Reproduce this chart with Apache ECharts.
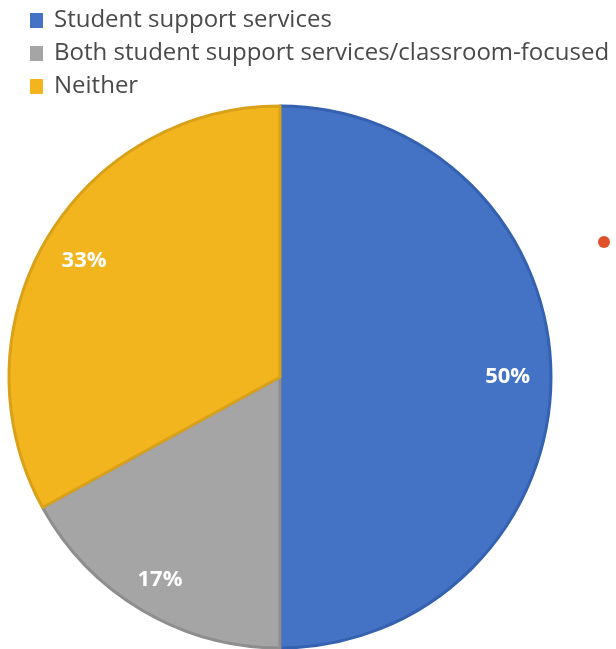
<!DOCTYPE html>
<html>
<head>
<meta charset="utf-8">
<script src="https://cdn.jsdelivr.net/npm/echarts@6/dist/echarts.min.js"></script>
<style>
  html, body { margin: 0; padding: 0; background: #fff; }
  #chart { width: 616px; height: 649px; }
</style>
</head>
<body>
<div id="chart"></div>
<script>
// Categories and shares (percent)
const categories = [
  'Student support services',
  'Both student support services/classroom-focused',
  'Neither'
];
const shares = [50, 17, 33];
const sliceColors = ['#4472C4', '#A5A5A5', '#F2B51E'];
const edgeColors = ['#3461B0', '#8E8E8E', '#D9A11A'];

const chart = echarts.init(document.getElementById('chart'));

const cx = 280, cy = 377, R = 271;
// how far out along each slice's bisector its label sits
const labelRatios = [0.84, 0.87, 0.84];

// angle (clockwise from 12 o'clock) at the middle of each slice
const total = shares.reduce((a, b) => a + b, 0);
const midAngles = [];
let acc = 0;
shares.forEach(v => {
  midAngles.push((acc + v / 2) / total * 2 * Math.PI);
  acc += v;
});

chart.setOption({
  animation: false,
  legend: {
    orient: 'vertical',
    left: 25,
    top: 2,
    itemWidth: 13,
    itemHeight: 15,
    itemGap: 6,
    icon: 'rect',
    itemStyle: { borderWidth: 0 },
    textStyle: { fontFamily: 'Open Sans', fontSize: 24, lineHeight: 27, color: '#4a4a4a', padding: [0, 0, 0, 6] },
    data: categories
  },
  graphic: [{
    type: 'circle',
    shape: { cx: 604, cy: 242, r: 6 },
    style: { fill: '#E0512B' }
  }],
  series: [{
    type: 'pie',
    center: [cx, cy],
    radius: [0, R],
    startAngle: 90,
    clockwise: true,
    data: categories.map((name, i) => ({
      name,
      value: shares[i],
      itemStyle: { color: sliceColors[i], borderColor: edgeColors[i], borderWidth: 3 }
    })),
    label: {
      position: 'inside',
      formatter: p => p.value + '%',
      color: '#fff',
      fontFamily: 'Open Sans',
      fontWeight: 'bold',
      fontSize: 22
    },
    labelLine: { show: false },
    labelLayout: params => {
      const i = params.dataIndex;
      const a = midAngles[i];
      return {
        x: cx + Math.sin(a) * R * labelRatios[i],
        y: cy - Math.cos(a) * R * labelRatios[i],
        align: 'center',
        verticalAlign: 'middle'
      };
    },
    emphasis: { disabled: true }
  }]
});
</script>
</body>
</html>
